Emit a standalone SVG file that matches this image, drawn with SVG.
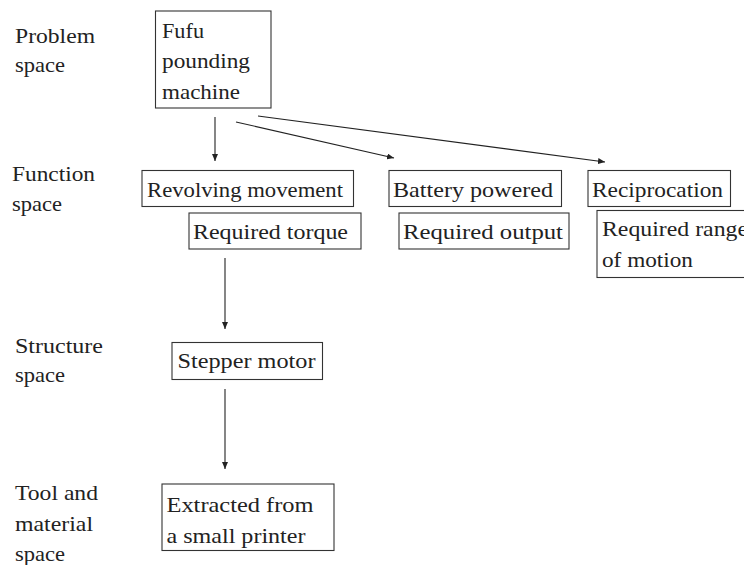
<svg xmlns="http://www.w3.org/2000/svg" width="744" height="565" viewBox="0 0 744 565">
  <style>
    text { font-family: "Liberation Serif", "DejaVu Serif", serif; font-size: 22px; fill: #222; }
    .box { fill: #fff; stroke: #333; stroke-width: 1.1; }
    .edge { stroke: #222; stroke-width: 1.1; fill: none; marker-end: url(#head); }
  </style>
  <defs>
    <marker id="head" viewBox="0 0 7 6" refX="7" refY="3" markerWidth="7" markerHeight="6" markerUnits="userSpaceOnUse" orient="auto">
      <path d="M0,0 L7,3 L0,6 z" fill="#222"/>
    </marker>
  </defs>
  <rect width="744" height="565" fill="#fff"/>

  <!-- level labels on the left -->
  <g id="labels" lengthAdjust="spacingAndGlyphs">
    <text x="15" y="42.5" textLength="80" lengthAdjust="spacingAndGlyphs">Problem</text>
    <text x="15" y="72" textLength="50" lengthAdjust="spacingAndGlyphs">space</text>
    <text x="12" y="181" textLength="83" lengthAdjust="spacingAndGlyphs">Function</text>
    <text x="12" y="211" textLength="50" lengthAdjust="spacingAndGlyphs">space</text>
    <text x="15" y="353" textLength="88" lengthAdjust="spacingAndGlyphs">Structure</text>
    <text x="15" y="382" textLength="50" lengthAdjust="spacingAndGlyphs">space</text>
    <text x="15" y="500" textLength="83" lengthAdjust="spacingAndGlyphs">Tool and</text>
    <text x="15" y="531" textLength="78" lengthAdjust="spacingAndGlyphs">material</text>
    <text x="15" y="561" textLength="50" lengthAdjust="spacingAndGlyphs">space</text>
  </g>

  <g id="connectors">
    <line class="edge" x1="215" y1="117" x2="215" y2="161"/>
    <line class="edge" x1="236" y1="122" x2="394" y2="158"/>
    <line class="edge" x1="258" y1="116" x2="605" y2="162"/>
    <line class="edge" x1="225" y1="258" x2="225" y2="329"/>
    <line class="edge" x1="225" y1="389" x2="225" y2="469"/>
  </g>

  <g id="fufu">
    <rect class="box" x="155.5" y="11" width="115.5" height="97"/>
    <text x="162" y="37.5" textLength="42" lengthAdjust="spacingAndGlyphs">Fufu</text>
    <text x="162" y="68" textLength="88" lengthAdjust="spacingAndGlyphs">pounding</text>
    <text x="162" y="98.5" textLength="78" lengthAdjust="spacingAndGlyphs">machine</text>
  </g>
  <g id="revolving">
    <rect class="box" x="142" y="170.5" width="211.5" height="36"/>
    <text x="147" y="196.5" textLength="196" lengthAdjust="spacingAndGlyphs">Revolving movement</text>
  </g>
  <g id="torque">
    <rect class="box" x="189" y="213" width="172" height="36"/>
    <text x="193" y="238.5" textLength="155" lengthAdjust="spacingAndGlyphs">Required torque</text>
  </g>
  <g id="battery">
    <rect class="box" x="389" y="170.5" width="172.5" height="36"/>
    <text x="393" y="196.5" textLength="160" lengthAdjust="spacingAndGlyphs">Battery powered</text>
  </g>
  <g id="output">
    <rect class="box" x="399" y="213" width="170" height="36"/>
    <text x="403" y="238.5" textLength="160" lengthAdjust="spacingAndGlyphs">Required output</text>
  </g>
  <g id="reciprocation">
    <rect class="box" x="588" y="170.5" width="142.5" height="36"/>
    <text x="592" y="196.5" textLength="131" lengthAdjust="spacingAndGlyphs">Reciprocation</text>
  </g>
  <g id="range">
    <rect class="box" x="597" y="210.5" width="170" height="67"/>
    <text x="602" y="236" textLength="146" lengthAdjust="spacingAndGlyphs">Required range</text>
    <text x="602" y="267" textLength="91" lengthAdjust="spacingAndGlyphs">of motion</text>
  </g>
  <g id="stepper">
    <rect class="box" x="172" y="342.5" width="150.5" height="37"/>
    <text x="177.5" y="368" textLength="138" lengthAdjust="spacingAndGlyphs">Stepper motor</text>
  </g>
  <g id="extracted">
    <rect class="box" x="162" y="484" width="172" height="66.5"/>
    <text x="166.5" y="512" textLength="147" lengthAdjust="spacingAndGlyphs">Extracted from</text>
    <text x="166.5" y="543" textLength="139" lengthAdjust="spacingAndGlyphs">a small printer</text>
  </g>
</svg>
